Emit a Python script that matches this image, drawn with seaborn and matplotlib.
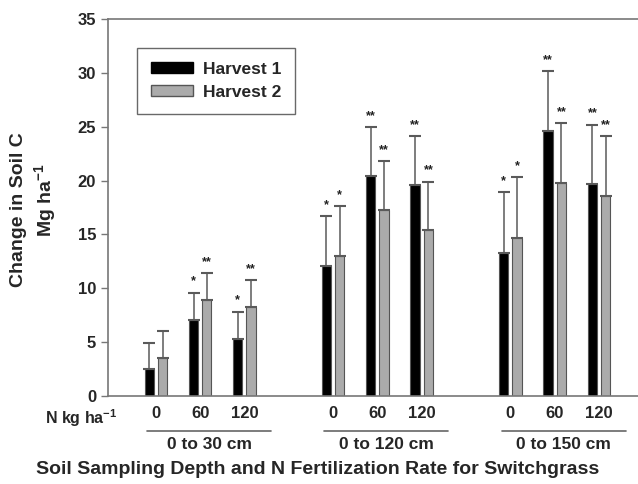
"""
Change in soil C under switchgrass by sampling depth and N rate
"""

import numpy as np
import pandas as pd
import matplotlib
matplotlib.use('Agg')
import matplotlib.pyplot as plt
import matplotlib.transforms as mtransforms
from matplotlib.patches import Patch
import seaborn as sns

# Data
depths = ['0 to 30 cm', '0 to 120 cm', '0 to 150 cm']
n_rates = ['0', '60', '120']
slots = [0, 1, 2, 4, 5, 6, 8, 9, 10]   # x slot of each depth/rate pair
harvest1 = [2.5, 7.05, 5.25, 12.1, 20.4, 19.6, 13.3, 24.6, 19.7]
harvest1_upper = [4.95, 9.6, 7.8, 16.7, 24.95, 24.1, 18.9, 30.15, 25.2]
harvest2 = [3.5, 8.9, 8.3, 13.0, 17.3, 15.4, 14.7, 19.75, 18.6]
harvest2_upper = [6.0, 11.4, 10.75, 17.6, 21.8, 19.9, 20.3, 25.3, 24.1]
stars1 = ['', '*', '*', '*', '**', '**', '*', '**', '**']
stars2 = ['', '**', '**', '*', '**', '**', '*', '**', '**']

BOLD = dict(fontweight='bold', family='Liberation Sans')

sns.set_style('ticks')
plt.rcParams['font.family'] = 'Liberation Sans'
plt.rcParams['font.weight'] = 'bold'
plt.rcParams['mathtext.default'] = 'bf'
plt.rcParams['mathtext.fontset'] = 'custom'
plt.rcParams['mathtext.bf'] = 'Liberation Sans:bold'
plt.rcParams['mathtext.rm'] = 'Liberation Sans:bold'


def build_frame():
    rows = []
    for name, vals in [('Harvest 1', harvest1), ('Harvest 2', harvest2)]:
        for s, v in zip(slots, vals):
            rows.append({'slot': s, 'value': v, 'harvest': name})
    return pd.DataFrame(rows)


def main():
    df = build_frame()
    fig = plt.figure(figsize=(6.38, 4.84), dpi=100)
    ax = fig.add_axes([108 / 638, 1 - 396 / 484, 1 - 108 / 638, 377 / 484])

    sns.barplot(data=df, x='slot', y='value', hue='harvest', native_scale=True,
                palette=['black', '#ababab'], width=0.6, gap=0.3,
                edgecolor='#555555', linewidth=0.8, legend=False, ax=ax)

    offset = 0.15
    x1 = np.array(slots) - offset
    x2 = np.array(slots) + offset
    for xs, vals, upper, stars in [(x1, harvest1, harvest1_upper, stars1),
                                   (x2, harvest2, harvest2_upper, stars2)]:
        vals = np.array(vals)
        err = np.array(upper) - vals
        ax.errorbar(xs, vals, yerr=[np.zeros_like(err), err], fmt='none',
                    ecolor='#5a5a5a', elinewidth=1.1, capsize=4.5, capthick=1.5)
        for x, u, s in zip(xs, upper, stars):
            if s:
                ax.text(x, u + 0.5, s, ha='center', va='bottom', fontsize=9,
                        color='#222222', **BOLD)

    ax.set_xlim(-1.08, 10.88)
    ax.set_ylim(0, 35)
    ax.set_yticks(range(0, 36, 5))
    ax.set_xticks(slots)
    ax.set_xticklabels(n_rates * 3)
    ax.tick_params(axis='x', length=0, pad=7, labelsize=12)
    ax.tick_params(axis='y', length=5, width=1, color='#777777', labelsize=12)
    for lab in ax.get_xticklabels() + ax.get_yticklabels():
        lab.set_fontweight('bold')
    ax.set_xlabel('')
    ax.set_ylabel('')

    for side in ['left', 'bottom', 'top']:
        ax.spines[side].set_color('#777777')
        ax.spines[side].set_linewidth(1.2)
    ax.spines['right'].set_visible(False)

    # group brackets under the N rates
    trans = mtransforms.blended_transform_factory(ax.transData, ax.transAxes)
    for i, name in enumerate(depths):
        first, last = slots[3 * i], slots[3 * i + 2]
        x0, x1_ = first - 0.2, min(last + 0.6, 10.87)
        ax.plot([x0, x1_], [-0.093, -0.093], color='#666666', lw=1.2,
                transform=trans, clip_on=False)
        ax.text((x0 + x1_) / 2, -0.11, name, transform=trans, ha='center',
                va='top', fontsize=12.5, **BOLD)

    fig.text(45 / 638, 1 - 424 / 484, r'N kg ha$^{-1}$', ha='left',
             va='baseline', fontsize=11.5, **BOLD)
    fig.text(318 / 638, 1 - 469 / 484,
             'Soil Sampling Depth and N Fertilization Rate for Switchgrass',
             ha='center', va='center', fontsize=14, **BOLD)
    fig.text(19 / 638, 1 - 210 / 484, 'Change in Soil C', rotation=90,
             ha='center', va='center', fontsize=14, **BOLD)
    fig.text(45 / 638, 1 - 200 / 484, r'Mg ha$^{-1}$', rotation=90,
             ha='center', va='center', fontsize=14, **BOLD)

    handles = [Patch(facecolor='black', edgecolor='black', label='Harvest 1'),
               Patch(facecolor='#ababab', edgecolor='#555555', label='Harvest 2')]
    leg = ax.legend(handles=handles, loc='upper left',
                    bbox_to_anchor=((137 - 108) / 530, (396 - 48) / 377),
                    borderaxespad=0, frameon=True, fancybox=False,
                    edgecolor='#444444', handlelength=2.4, handleheight=0.6,
                    borderpad=0.8, labelspacing=0.45, handletextpad=0.6,
                    prop={'weight': 'bold', 'size': 12.5, 'family': 'Liberation Sans'})
    leg.get_frame().set_linewidth(1.0)

    fig.savefig('out.png', dpi=100)


if __name__ == '__main__':
    main()
